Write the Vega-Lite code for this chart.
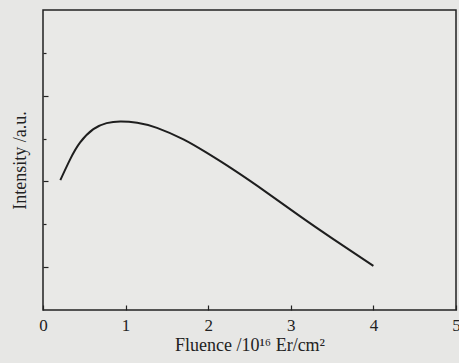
{
  "$schema": "https://vega.github.io/schema/vega-lite/v6.json",
  "autosize": "none",
  "width": 413,
  "height": 300,
  "padding": {"left": 43, "top": 10, "right": 3, "bottom": 53},
  "background": "#e7e7e5",
  "config": {
    "view": {"stroke": "#222", "strokeWidth": 1.5, "fill": "#e9e9e7"},
    "font": "Liberation Serif",
    "axis": {"labelFont": "Liberation Serif", "titleFont": "Liberation Serif", "labelColor": "#222", "titleColor": "#222", "titleFontWeight": "normal", "domain": false, "grid": false, "tickColor": "#222", "tickWidth": 1.2}
  },
  "data": {"values": [
    {"fluence": 0.21, "intensity": 3.03},
    {"fluence": 0.33, "intensity": 3.52},
    {"fluence": 0.45, "intensity": 3.91},
    {"fluence": 0.61, "intensity": 4.22},
    {"fluence": 0.77, "intensity": 4.36},
    {"fluence": 0.935, "intensity": 4.40},
    {"fluence": 1.14, "intensity": 4.37},
    {"fluence": 1.38, "intensity": 4.25},
    {"fluence": 1.70, "intensity": 3.98},
    {"fluence": 1.98, "intensity": 3.67},
    {"fluence": 2.30, "intensity": 3.28},
    {"fluence": 2.71, "intensity": 2.74},
    {"fluence": 3.11, "intensity": 2.19},
    {"fluence": 3.51, "intensity": 1.66},
    {"fluence": 4.0, "intensity": 1.03}
  ]},
  "mark": {"type": "line", "interpolate": "natural", "color": "#1e1e1e", "strokeWidth": 2},
  "encoding": {
    "x": {
      "field": "fluence", "type": "quantitative",
      "scale": {"domain": [0, 5], "nice": false},
      "axis": {
        "title": "Fluence /10¹⁶ Er/cm²",
        "values": [0, 0.5, 1, 1.5, 2, 2.5, 3, 3.5, 4, 4.5, 5],
        "format": "d",
        "labelExpr": "datum.value % 1 === 0 ? datum.label : ''",
        "tickSize": {"condition": {"test": "datum.value % 1 === 0", "value": -5}, "value": -3},
        "labelFont": "Liberation Serif", "titleFont": "Liberation Serif",
        "labelFontSize": 17, "labelPadding": 12, "titleFontSize": 18, "titlePadding": 3,
        "labelFlush": false, "labelOverlap": false
      }
    },
    "y": {
      "field": "intensity", "type": "quantitative",
      "scale": {"domain": [0, 7], "nice": false},
      "axis": {
        "title": "Intensity /a.u.",
        "values": [1, 2, 3, 4, 5, 6],
        "labels": false,
        "tickSize": {"condition": {"test": "datum.value % 2 === 1", "value": -5}, "value": -3},
        "titleFont": "Liberation Serif",
        "titleFontSize": 18, "titlePadding": 13
      }
    }
  }
}
